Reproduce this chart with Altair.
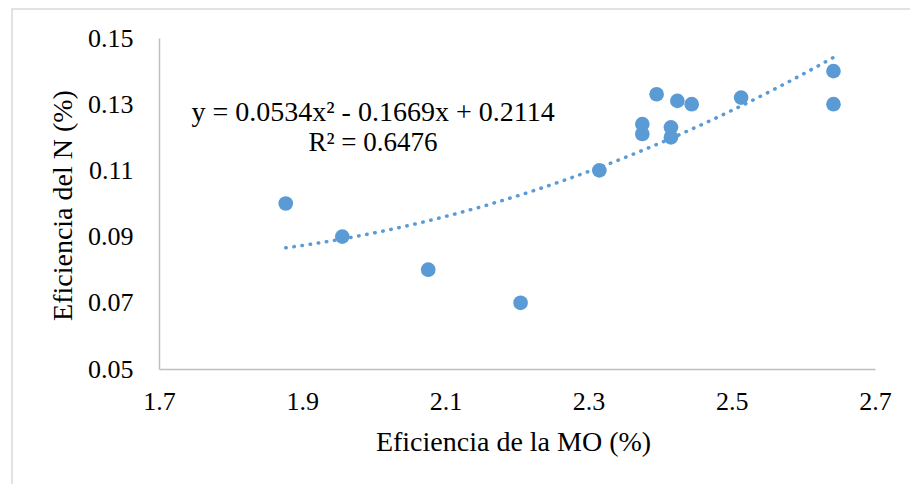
import altair as alt
import pandas as pd

# Data
mo = [1.877, 1.956, 2.076, 2.205, 2.315, 2.375, 2.375, 2.395, 2.415, 2.415, 2.424, 2.444, 2.513, 2.642, 2.642]
n_eff = [0.100, 0.090, 0.080, 0.070, 0.110, 0.124, 0.121, 0.133, 0.123, 0.120, 0.131, 0.130, 0.132, 0.140, 0.130]
x_ticks = [1.7, 1.9, 2.1, 2.3, 2.5, 2.7]
y_ticks = [0.05, 0.07, 0.09, 0.11, 0.13, 0.15]
eq_line = "y = 0.0534x² - 0.1669x + 0.2114"
r2_line = "R² = 0.6476"

df = pd.DataFrame({"mo": mo, "n": n_eff})

FONT = "Liberation Serif"
BLUE = "#5B9BD5"
W, H = 716, 331

x_enc = alt.X(
    "mo:Q",
    scale=alt.Scale(domain=[1.7, 2.7], nice=False, zero=False),
    axis=alt.Axis(
        values=x_ticks, format=".1f", grid=False, ticks=False, tickSize=0,
        domainColor="#bfbfbf", domainWidth=1.5,
        labelFont=FONT, labelFontSize=26, labelColor="#000000", labelPadding=19,
        labelFlush=False,
        title="Eficiencia de la MO (%)", titleFont=FONT, titleFontSize=28,
        titleFontWeight="normal", titleColor="#000000",
        titleX=354, titleY=73, titleBaseline="middle", titleAlign="center",
    ),
)
y_enc = alt.Y(
    "n:Q",
    scale=alt.Scale(domain=[0.05, 0.15], nice=False, zero=False),
    axis=alt.Axis(
        values=y_ticks, format=".2f", grid=False, ticks=False, tickSize=0,
        domainColor="#bfbfbf", domainWidth=1.5,
        labelFont=FONT, labelFontSize=26, labelColor="#000000", labelPadding=26,
        labelFlush=False,
        title="Eficiencia del N (%)", titleFont=FONT, titleFontSize=28,
        titleFontWeight="normal", titleColor="#000000",
        titleAngle=-90, titleX=-96, titleY=167, titleBaseline="middle",
        titleAlign="center",
    ),
)

base = alt.Chart(df)

border = base.mark_rect(
    fill=None, stroke="#d9d9d9", strokeWidth=1.5
).encode(
    x=alt.value(-147), x2=alt.value(W + 80), y=alt.value(-29), y2=alt.value(H + 140)
).transform_filter("datum.n == 0.1")

trend = base.transform_regression(
    "mo", "n", method="poly", order=2, extent=[1.877, 2.642]
).mark_line(
    color=BLUE, strokeWidth=3.5, strokeDash=[0.5, 7.7], strokeCap="round"
).encode(x=x_enc, y=y_enc)

points = base.mark_circle(size=215, color=BLUE, opacity=1).encode(x=x_enc, y=y_enc)

eq = base.mark_text(
    text=eq_line, font=FONT, fontSize=28, color="#000000", align="center", baseline="middle"
).encode(x=alt.value(214), y=alt.value(75)).transform_filter("datum.n == 0.1")

r2 = base.mark_text(
    text=r2_line, font=FONT, fontSize=27, color="#000000", align="center", baseline="middle"
).encode(x=alt.value(214), y=alt.value(105)).transform_filter("datum.n == 0.1")

chart = alt.layer(border, trend, points, eq, r2).properties(
    width=W, height=H,
    autosize=alt.AutoSizeParams(type="none"),
    padding={"left": 159, "top": 38, "right": 35, "bottom": 115},
    background="#ffffff",
).configure_view(stroke=None)

chart.save("out.html", embed_options={"renderer": "svg", "actions": False})
